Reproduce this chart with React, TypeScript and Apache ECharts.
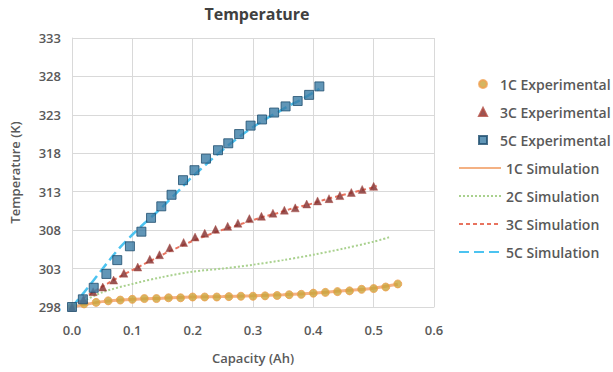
import React, { useEffect, useRef } from "react";
import * as echarts from "echarts";

// Temperature base (axis starts here)
const T_BASE = 298;
const xTicks = [0, 0.1, 0.2, 0.3, 0.4, 0.5, 0.6];
const yTickLabels = [298, 303, 308, 313, 318, 323, 328, 333];

// 1C Experimental
const exp1X = [0, 0.02, 0.04, 0.06, 0.08, 0.1, 0.12, 0.14, 0.16, 0.18, 0.2, 0.22, 0.24, 0.26, 0.28, 0.3, 0.32, 0.34, 0.36, 0.38, 0.4, 0.42, 0.44, 0.46, 0.48, 0.5, 0.52, 0.54];
const exp1T = [298.0, 298.4, 298.6, 298.8, 298.9, 299.0, 299.1, 299.1, 299.2, 299.2, 299.3, 299.3, 299.3, 299.35, 299.4, 299.4, 299.45, 299.5, 299.6, 299.65, 299.8, 299.9, 300.0, 300.1, 300.3, 300.4, 300.6, 301.0];

// 3C Experimental
const exp3X = [0, 0.019, 0.035, 0.051, 0.069, 0.086, 0.109, 0.129, 0.145, 0.162, 0.185, 0.204, 0.22, 0.238, 0.258, 0.275, 0.294, 0.314, 0.333, 0.352, 0.37, 0.389, 0.407, 0.426, 0.444, 0.463, 0.481, 0.5];
const exp3T = [298.0, 299.0, 300.0, 300.6, 301.5, 302.4, 303.2, 304.2, 304.8, 305.7, 306.4, 307.1, 307.6, 308.1, 308.5, 308.9, 309.5, 309.8, 310.2, 310.6, 310.9, 311.4, 311.8, 312.1, 312.5, 312.9, 313.3, 313.7];

// 5C Experimental
const exp5X = [0, 0.018, 0.036, 0.057, 0.075, 0.096, 0.115, 0.131, 0.148, 0.165, 0.184, 0.203, 0.222, 0.242, 0.259, 0.277, 0.296, 0.315, 0.335, 0.354, 0.374, 0.393, 0.41];
const exp5T = [298.0, 299.0, 300.5, 302.3, 304.1, 305.9, 307.8, 309.6, 311.1, 312.6, 314.5, 315.8, 317.3, 318.4, 319.3, 320.5, 321.6, 322.4, 323.3, 324.1, 324.8, 325.6, 326.7];

// 1C Simulation
const sim1X = [0, 0.05, 0.1, 0.15, 0.2, 0.25, 0.3, 0.35, 0.4, 0.45, 0.5, 0.54];
const sim1T = [298.0, 298.7, 299.0, 299.15, 299.3, 299.35, 299.45, 299.6, 299.8, 300.1, 300.45, 300.95];

// 2C Simulation
const sim2X = [0, 0.05, 0.1, 0.15, 0.2, 0.25, 0.3, 0.35, 0.4, 0.45, 0.5, 0.527];
const sim2T = [298.0, 299.9, 301.0, 301.9, 302.6, 303.0, 303.5, 304.1, 304.8, 305.6, 306.5, 307.1];

// 3C Simulation
const sim3X = [0, 0.02, 0.04, 0.06, 0.08, 0.1, 0.12, 0.14, 0.16, 0.18, 0.2, 0.22, 0.24, 0.26, 0.28, 0.3, 0.32, 0.34, 0.36, 0.38, 0.4, 0.42, 0.44, 0.46, 0.48, 0.5, 0.505];
const sim3T = [298.0, 299.2, 300.2, 301.1, 302.0, 302.8, 303.6, 304.4, 305.2, 305.9, 306.6, 307.2, 307.8, 308.3, 308.8, 309.3, 309.8, 310.2, 310.7, 311.1, 311.5, 312.0, 312.4, 312.8, 313.2, 313.6, 313.8];

// 5C Simulation
const sim5X = [0, 0.02, 0.04, 0.06, 0.08, 0.1, 0.12, 0.14, 0.16, 0.18, 0.2, 0.22, 0.24, 0.26, 0.28, 0.3, 0.32, 0.34, 0.36, 0.38, 0.4, 0.41];
const sim5T = [298.0, 299.9, 301.9, 303.9, 305.8, 307.4, 308.9, 310.3, 311.8, 313.4, 315.0, 316.4, 317.8, 319.1, 320.3, 321.4, 322.4, 323.3, 324.2, 325.0, 325.9, 326.4];

const pairs = (xs: number[], ts: number[]) => xs.map((x, i) => [x, ts[i] - T_BASE]);

const FONT = "Open Sans";
const TXT = "#595959";

export default function App() {
  const ref = useRef<HTMLDivElement>(null);
  useEffect(() => {
    if (!ref.current) return;
    const chart = echarts.init(ref.current, undefined, { renderer: "svg" });
    const lineSeries = (name: string, xs: number[], ts: number[], color: string, width: number, type: any) => ({
      name,
      type: "line",
      data: pairs(xs, ts),
      symbol: "none",
      showSymbol: false,
      smooth: 0.3,
      lineStyle: { color, width, type },
      itemStyle: { color },
      z: 2,
    });
    const legendText = { fontFamily: FONT, fontSize: 14, fontWeight: 600, color: TXT, lineHeight: 16 };
    chart.setOption({
      animation: false,
      backgroundColor: "#ffffff",
      title: {
        text: "Temperature",
        left: 252,
        top: 1,
        textAlign: "center",
        textStyle: { fontFamily: FONT, fontSize: 16, fontWeight: "bold", color: "#404040" },
      },
      grid: { left: 71, right: 179, top: 38, bottom: 65 },
      xAxis: {
        type: "value",
        min: xTicks[0],
        max: xTicks[xTicks.length - 1],
        interval: 0.1,
        name: "Capacity (Ah)",
        nameLocation: "middle",
        nameGap: 44,
        nameTextStyle: { fontFamily: FONT, fontSize: 13, fontWeight: 600, color: TXT },
        axisLine: { show: true, lineStyle: { color: "#D9D9D9" } },
        axisTick: { show: false },
        axisLabel: {
          margin: 16,
          fontFamily: FONT,
          fontSize: 13,
          fontWeight: 600,
          color: TXT,
          formatter: (v: number) => v.toFixed(1),
        },
        splitLine: { show: true, lineStyle: { color: "#D9D9D9", width: 1 } },
      },
      yAxis: {
        type: "value",
        min: yTickLabels[0] - T_BASE,
        max: yTickLabels[yTickLabels.length - 1] - T_BASE,
        interval: 5,
        name: "Temperature (K)",
        nameLocation: "middle",
        nameGap: 51,
        nameTextStyle: { fontFamily: FONT, fontSize: 13, fontWeight: 600, color: TXT },
        axisLine: { show: true, lineStyle: { color: "#D9D9D9" } },
        axisTick: { show: false },
        axisLabel: {
          margin: 11,
          fontFamily: FONT,
          fontSize: 13,
          fontWeight: 600,
          color: TXT,
          formatter: (v: number) => String(Math.round(v + T_BASE)),
        },
        splitLine: { show: true, lineStyle: { color: "#D9D9D9", width: 1 } },
      },
      legend: [
        {
          data: ["1C Experimental", "3C Experimental", "5C Experimental"],
          orient: "vertical",
          left: 473,
          top: 71,
          itemWidth: 8,
          itemHeight: 8,
          itemGap: 12,
          textStyle: { ...legendText, padding: [0, 0, 0, 8] },
        },
        {
          data: ["1C Simulation", "2C Simulation", "3C Simulation", "5C Simulation"],
          orient: "vertical",
          left: 453,
          top: 155,
          itemWidth: 42,
          itemHeight: 8,
          itemGap: 12,
          itemStyle: { opacity: 0 },
          textStyle: legendText,
        },
      ],
      series: [
        lineSeries("1C Simulation", sim1X, sim1T, "#F4B183", 3, "solid"),
        lineSeries("2C Simulation", sim2X, sim2T, "#A9D18E", 2, [2, 2]),
        lineSeries("3C Simulation", sim3X, sim3T, "#E8735E", 2, [4, 3]),
        lineSeries("5C Simulation", sim5X, sim5T, "#4CC3F0", 2.5, [10, 5]),
        {
          name: "1C Experimental",
          type: "scatter",
          data: pairs(exp1X, exp1T),
          symbol: "circle",
          symbolSize: 8,
          itemStyle: { color: "#C9A43A", borderColor: "#F0A050", borderWidth: 1 },
          z: 3,
        },
        {
          name: "3C Experimental",
          type: "scatter",
          data: pairs(exp3X, exp3T),
          symbol: "triangle",
          symbolSize: 8,
          itemStyle: { color: "#7F2B2B", borderColor: "#B04A40", borderWidth: 0.5 },
          z: 3,
        },
        {
          name: "5C Experimental",
          type: "scatter",
          data: pairs(exp5X, exp5T),
          symbol: "rect",
          symbolSize: 9,
          itemStyle: { color: "#3A7CA5", borderColor: "#1F4E6E", borderWidth: 1 },
          z: 3,
        },
      ],
    });
    return () => chart.dispose();
  }, []);
  return (
    <div
      ref={ref}
      style={{ position: "fixed", left: 0, top: 0, width: 613, height: 372, background: "#fff" }}
    />
  );
}
